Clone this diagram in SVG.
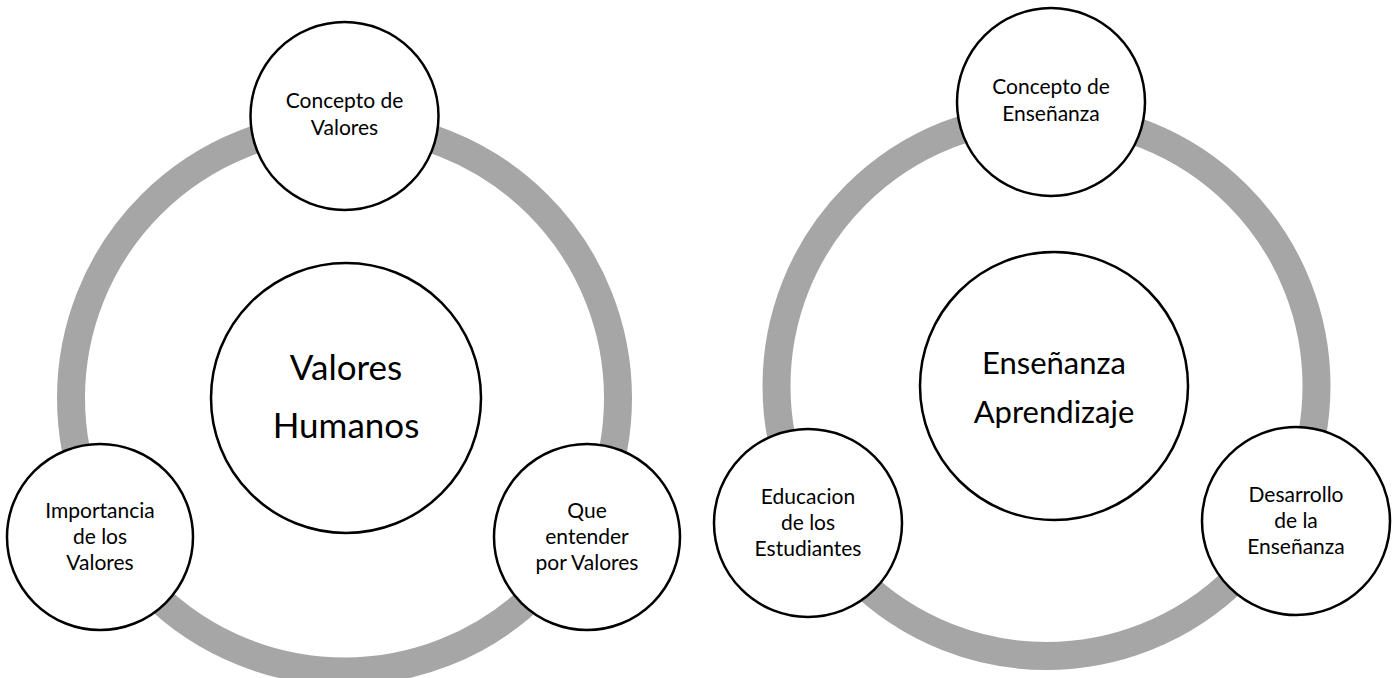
<svg xmlns="http://www.w3.org/2000/svg" width="1395" height="678" viewBox="0 0 1395 678">
<style>
.ring{fill:none;stroke:#a6a6a6;stroke-width:28}
.node{fill:#fff;stroke:#000;stroke-width:2.5}
.t{font-family:Lato,"Liberation Sans",sans-serif;fill:#000;text-anchor:middle}
.s{font-size:21px}
.b1{font-size:35px}
.b2{font-size:31px}
</style>
<rect width="1395" height="678" fill="#fff"/>
<g id="connectors">
<circle class="ring" cx="344.5" cy="398" r="273.5"/>
<circle class="ring" cx="1046.5" cy="386" r="270"/>
</g>
<g id="left-center">
<circle class="node" cx="346" cy="398" r="135"/>
<text class="t b1" x="346" y="380">Valores</text>
<text class="t b1" x="346" y="438">Humanos</text>
</g>
<g id="left-top">
<circle class="node" cx="344.5" cy="116" r="94"/>
<text class="t s" x="344.5" y="108">Concepto de</text>
<text class="t s" x="344.5" y="135">Valores</text>
</g>
<g id="left-bl">
<circle class="node" cx="100" cy="537" r="93"/>
<text class="t s" x="100" y="518">Importancia</text>
<text class="t s" x="100" y="544">de los</text>
<text class="t s" x="100" y="570">Valores</text>
</g>
<g id="left-br">
<circle class="node" cx="587" cy="537" r="93"/>
<text class="t s" x="587" y="518">Que</text>
<text class="t s" x="587" y="544">entender</text>
<text class="t s" x="587" y="570">por Valores</text>
</g>
<g id="right-center">
<circle class="node" cx="1054" cy="386" r="134"/>
<text class="t b2" x="1054" y="374">Enseñanza</text>
<text class="t b2" x="1054" y="423">Aprendizaje</text>
</g>
<g id="right-top">
<circle class="node" cx="1051" cy="102" r="94"/>
<text class="t s" x="1051" y="94">Concepto de</text>
<text class="t s" x="1051" y="121">Enseñanza</text>
</g>
<g id="right-bl">
<circle class="node" cx="808" cy="523" r="94"/>
<text class="t s" x="808" y="504">Educacion</text>
<text class="t s" x="808" y="530">de los</text>
<text class="t s" x="808" y="556">Estudiantes</text>
</g>
<g id="right-br">
<circle class="node" cx="1296" cy="521" r="94"/>
<text class="t s" x="1296" y="502">Desarrollo</text>
<text class="t s" x="1296" y="528">de la</text>
<text class="t s" x="1296" y="554">Enseñanza</text>
</g>
</svg>
